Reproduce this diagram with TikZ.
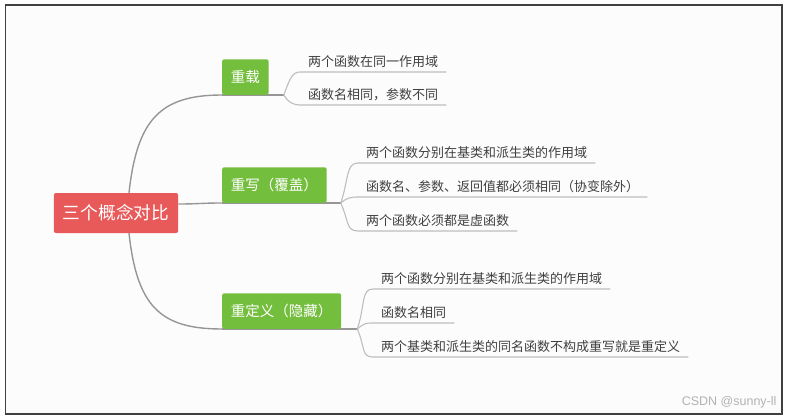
\documentclass[tikz,border=0pt]{standalone}
\usepackage{fontspec}
\setmainfont{Noto Sans CJK SC}
\newfontfamily\markfont{Liberation Sans}
\usetikzlibrary{calc,backgrounds}
\definecolor{croot}{RGB}{232,90,90}
\definecolor{ctopic}{RGB}{116,190,61}
\definecolor{clink}{RGB}{150,150,150}
\definecolor{ctwig}{RGB}{190,190,190}
\definecolor{cleaf}{RGB}{64,64,64}

\begin{document}
\begin{tikzpicture}[x=1pt,y=-1pt,
  rootbox/.style={fill=croot,text=white,rounded corners=2pt,font=\fontsize{17.7}{20}\selectfont,inner xsep=9pt,inner ysep=0pt,minimum height=40pt},
  topicbox/.style={fill=ctopic,text=white,rounded corners=2pt,font=\fontsize{14.5}{17}\selectfont,inner xsep=8.7pt,inner ysep=0pt,minimum height=35.5pt,anchor=south west},
  leaf/.style={text=cleaf,font=\fontsize{13}{15}\selectfont,inner xsep=8pt,inner ysep=0pt,text height=11pt,text depth=5pt,anchor=south west},
  link/.style={clink,line width=1.4pt},
  twig/.style={ctwig,line width=1.1pt}]
\useasboundingbox (0,0) rectangle (790,417);
% root and the three topics
\node[rootbox] (root) at (116,213) {三个概念对比};
\node[topicbox] (ovl) at (222,95) {重载};
\node[topicbox] (ovr) at (222,203) {重写（覆盖）};
\node[topicbox] (rdf) at (222,329) {重定义（隐藏）};
\coordinate (ovlfork) at ($(ovl.south east)+(15,0)$);
\coordinate (ovrfork) at ($(ovr.south east)+(14,0)$);
\coordinate (rdffork) at ($(rdf.south east)+(16,0)$);
% leaves
\node[leaf] (ovla) at (300,72) {两个函数在同一作用域};
\node[leaf] (ovlb) at (300,105) {函数名相同，参数不同};
\node[leaf] (ovra) at (358,163) {两个函数分别在基类和派生类的作用域};
\node[leaf] (ovrb) at (358,197) {函数名、参数、返回值都必须相同（协变除外）};
\node[leaf] (ovrc) at (358,231) {两个函数必须都是虚函数};
\node[leaf] (rdfa) at (373,289) {两个函数分别在基类和派生类的作用域};
\node[leaf] (rdfb) at (373,323) {函数名相同};
\node[leaf] (rdfc) at (373,357) {两个基类和派生类的同名函数不构成重写就是重定义};
\node[anchor=east,text=black!30,font=\markfont\fontsize{12.5}{14}\selectfont] (mark) at (780,402) {CSDN @sunny-ll};
\begin{pgfonlayer}{background}
\draw[black!75,line width=1.2pt,fill=black!1] (5.5,5) rectangle (782,414);
\draw[link] ($(root.north)+(13,0)$) .. controls +(8,-73) and +(-62,0) .. (ovl.south west);
\draw[link] ($(root.east)+(0,-9)$) .. controls +(20,0) and +(-20,0) .. (ovr.south west);
\draw[link] ($(root.south)+(13,0)$) .. controls +(8,73) and +(-62,0) .. (rdf.south west);
\draw[link] (ovl.south west) -- (ovlfork);
\draw[link] (ovr.south west) -- (ovrfork);
\draw[link] (rdf.south west) -- (rdffork);
\end{pgfonlayer}
% twigs to the leaves
\draw[twig] (ovlfork) .. controls +(6,-16) and +(-8,0) .. (ovla.south west) -- (ovla.south east);
\draw[twig] (ovlfork) .. controls +(5,8) and +(-6,0) .. (ovlb.south west) -- (ovlb.south east);
\draw[twig] (ovrfork) .. controls +(8,-24) and +(-12,0) .. (ovra.south west) -- (ovra.south east);
\draw[twig] (ovrfork) .. controls +(6,-5) and +(-8,0) .. (ovrb.south west) -- (ovrb.south east);
\draw[twig] (ovrfork) .. controls +(8,18) and +(-12,0) .. (ovrc.south west) -- (ovrc.south east);
\draw[twig] (rdffork) .. controls +(8,-24) and +(-12,0) .. (rdfa.south west) -- (rdfa.south east);
\draw[twig] (rdffork) .. controls +(6,-5) and +(-8,0) .. (rdfb.south west) -- (rdfb.south east);
\draw[twig] (rdffork) .. controls +(8,18) and +(-12,0) .. (rdfc.south west) -- (rdfc.south east);
\end{tikzpicture}
\end{document}
